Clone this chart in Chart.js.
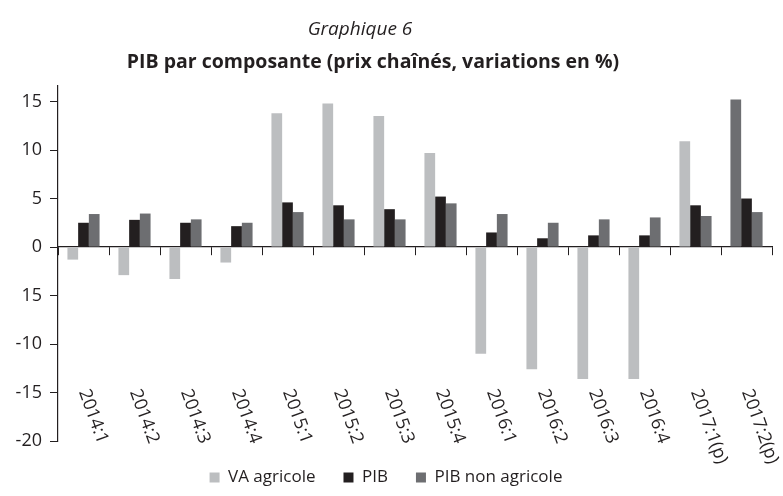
<!DOCTYPE html>
<html lang="fr">
<head>
<meta charset="UTF-8">
<title>PIB par composante</title>
<script src="https://cdn.jsdelivr.net/npm/chart.js"></script>
<style>
  html, body { margin: 0; padding: 0; background: #ffffff; }
  #wrap { width: 783px; height: 496px; }
</style>
</head>
<body>
<div id="wrap"><canvas id="chart"></canvas></div>
<script>
const categories = ['2014:1', '2014:2', '2014:3', '2014:4', '2015:1', '2015:2', '2015:3', '2015:4',
                    '2016:1', '2016:2', '2016:3', '2016:4', '2017:1(p)', '2017:2(p)'];
const vaAgricole = [-1.3, -2.9, -3.3, -1.6, 13.8, 14.8, 13.5, 9.7, -11.0, -12.6, -13.6, -13.6, 10.9, 15.2];
const pib = [2.5, 2.8, 2.5, 2.15, 4.6, 4.3, 3.9, 5.2, 1.5, 0.9, 1.2, 1.2, 4.3, 5.0];
const pibNonAgricole = [3.4, 3.45, 2.85, 2.5, 3.6, 2.85, 2.85, 4.5, 3.4, 2.5, 2.85, 3.05, 3.2, 3.6];
const yTickValues = [15, 10, 5, 0, -5, -10, -15, -20];
const yTickLabels = ['15', '10', '5', '0', '15', '-10', '-15', '-20'];

const INK = '#231f20';
const LIGHT = '#bcbec0';
const DARK = '#6d6e71';
const FONT = "'Open Sans', 'Noto Sans', sans-serif";

// the last VA agricole bar is printed in dark grey in the source
const vaColors = vaAgricole.map((v, i) => i === vaAgricole.length - 1 ? DARK : LIGHT);

const titles = {
  id: 'titles',
  afterDraw(chart) {
    const ctx = chart.ctx;
    ctx.save();
    ctx.fillStyle = INK;
    ctx.textAlign = 'center';
    ctx.textBaseline = 'middle';
    ctx.font = 'italic 19px ' + FONT;
    ctx.fillText('Graphique 6', 360, 30);
    ctx.font = 'bold 19.5px ' + FONT;
    ctx.fillText('PIB par composante (prix chaînés, variations en %)', 373, 62);
    ctx.restore();
  }
};

// rotated category labels, reading downwards to the right
const slantedLabels = {
  id: 'slantedLabels',
  afterDraw(chart) {
    const ctx = chart.ctx;
    const x = chart.scales.x;
    const top = chart.chartArea.bottom - 51;
    ctx.save();
    ctx.fillStyle = INK;
    ctx.font = '18px ' + FONT;
    ctx.textAlign = 'left';
    ctx.textBaseline = 'middle';
    categories.forEach((label, i) => {
      ctx.save();
      ctx.translate(x.getPixelForValue(i), top);
      ctx.rotate(70 * Math.PI / 180);
      ctx.fillText(label, 0, 0);
      ctx.restore();
    });
    ctx.restore();
  }
};

new Chart(document.getElementById('chart'), {
  type: 'bar',
  data: {
    labels: categories,
    datasets: [
      { label: 'VA agricole', data: vaAgricole, backgroundColor: vaColors },
      { label: 'PIB', data: pib, backgroundColor: INK },
      { label: 'PIB non agricole', data: pibNonAgricole, backgroundColor: DARK }
    ]
  },
  options: {
    responsive: true,
    maintainAspectRatio: false,
    animation: false,
    layout: { padding: { top: 86, right: 11, left: 0, bottom: 0 } },
    datasets: { bar: { categoryPercentage: 0.63, barPercentage: 1.0, borderWidth: 0 } },
    scales: {
      x: {
        position: { y: 0 },
        offset: true,
        ticks: { display: false },
        grid: { offset: true, drawOnChartArea: false, drawTicks: true, tickLength: 8, color: INK },
        border: { color: INK, width: 1.2 }
      },
      y: {
        min: -20,
        max: 16.6,
        afterBuildTicks: s => { s.ticks = yTickValues.map(v => ({ value: v })); },
        afterFit: s => { s.width = 58; },
        ticks: {
          callback: v => yTickLabels[yTickValues.indexOf(v)],
          color: INK,
          font: { family: FONT, size: 18 },
          padding: 8
        },
        grid: { drawOnChartArea: false, drawTicks: true, tickLength: 8, color: INK },
        border: { color: INK, width: 1.2 }
      }
    },
    plugins: {
      legend: {
        position: 'bottom',
        labels: {
          boxWidth: 10,
          boxHeight: 10,
          padding: 28,
          color: INK,
          font: { family: FONT, size: 17 }
        }
      },
      tooltip: { enabled: false },
      title: { display: false }
    }
  },
  plugins: [titles, slantedLabels]
});
</script>
</body>
</html>
